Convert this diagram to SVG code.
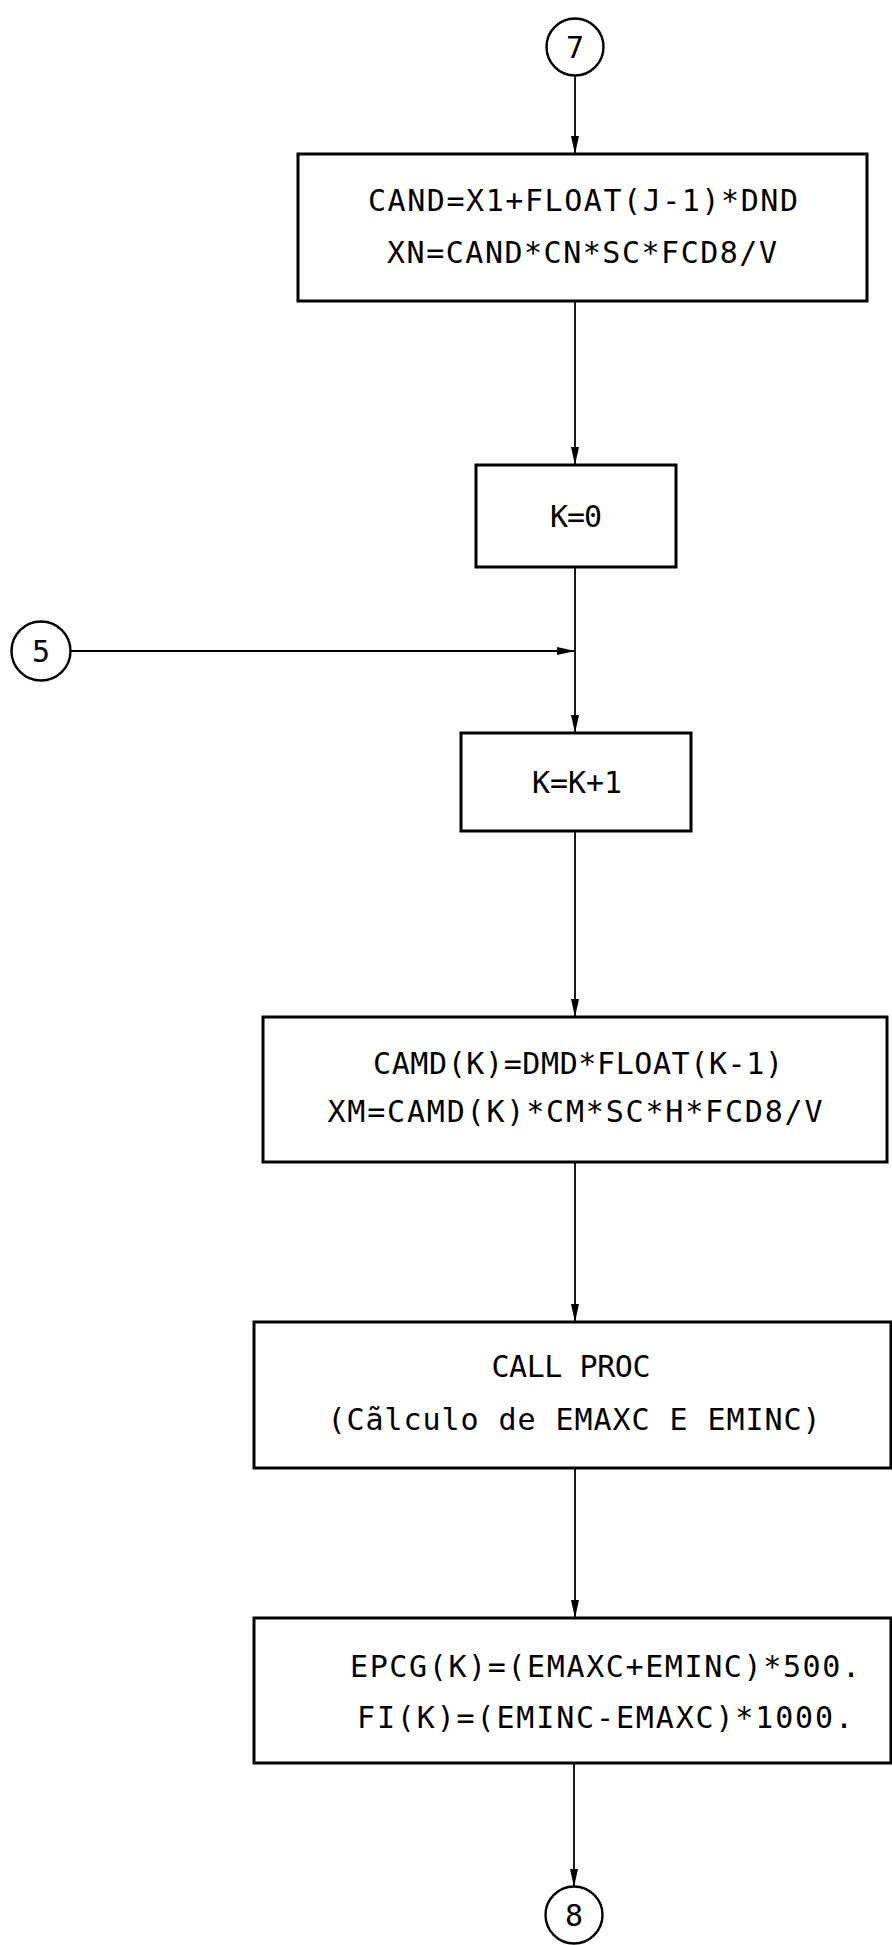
<svg xmlns="http://www.w3.org/2000/svg" width="892" height="1945" viewBox="0 0 892 1945">
<style>
.box{fill:#fff;stroke:#000;stroke-width:3}
.circ{fill:#fff;stroke:#000;stroke-width:2.4}
.ln{fill:none;stroke:#000;stroke-width:1.8}
.t{font-family:"DejaVu Sans Mono","Liberation Mono",monospace;font-size:30px;fill:#000;text-anchor:middle}
</style>
<defs>
<marker id="ah" viewBox="0 0 18 8" refX="18" refY="4" markerWidth="18" markerHeight="8" markerUnits="userSpaceOnUse" orient="auto">
<path d="M0,0 L18,4 L0,8 z" fill="#000"/>
</marker>
</defs>
<rect width="892" height="1945" fill="#fff"/>
<g id="connectors">
<line class="ln" x1="575" y1="76" x2="575" y2="154" marker-end="url(#ah)"/>
<line class="ln" x1="575" y1="301" x2="575" y2="465" marker-end="url(#ah)"/>
<line class="ln" x1="575" y1="567" x2="575" y2="733" marker-end="url(#ah)"/>
<line class="ln" x1="70" y1="651" x2="575" y2="651" marker-end="url(#ah)"/>
<line class="ln" x1="575" y1="831" x2="575" y2="1017" marker-end="url(#ah)"/>
<line class="ln" x1="575" y1="1162" x2="575" y2="1322" marker-end="url(#ah)"/>
<line class="ln" x1="575" y1="1468" x2="575" y2="1618" marker-end="url(#ah)"/>
<line class="ln" x1="574" y1="1763" x2="574" y2="1887" marker-end="url(#ah)"/>
</g>
<g id="c7">
<circle class="circ" cx="575" cy="47" r="28.5"/>
<text class="t" x="575" y="58">7</text>
</g>
<g id="b1">
<rect class="box" x="298" y="154" width="569" height="147"/>
<text class="t" x="583" y="211" textLength="430" lengthAdjust="spacing">CAND=X1+FLOAT(J-1)*DND</text>
<text class="t" x="582" y="263" textLength="390" lengthAdjust="spacing">XN=CAND*CN*SC*FCD8/V</text>
</g>
<g id="b2">
<rect class="box" x="476" y="465" width="200" height="102"/>
<text class="t" x="576" y="527" textLength="52" lengthAdjust="spacing">K=0</text>
</g>
<g id="c5">
<circle class="circ" cx="41" cy="651" r="29.5"/>
<text class="t" x="41" y="662">5</text>
</g>
<g id="b3">
<rect class="box" x="461" y="733" width="230" height="98"/>
<text class="t" x="577" y="793" textLength="90" lengthAdjust="spacing">K=K+1</text>
</g>
<g id="b4">
<rect class="box" x="263" y="1017" width="624" height="145"/>
<text class="t" x="578" y="1074" textLength="410" lengthAdjust="spacing">CAMD(K)=DMD*FLOAT(K-1)</text>
<text class="t" x="575" y="1122" textLength="495" lengthAdjust="spacing">XM=CAMD(K)*CM*SC*H*FCD8/V</text>
</g>
<g id="b5">
<rect class="box" x="254" y="1322" width="637" height="146"/>
<text class="t" x="571" y="1377" textLength="159" lengthAdjust="spacing">CALL PROC</text>
<text class="t" x="574" y="1430" textLength="493" lengthAdjust="spacing">(Cãlculo de EMAXC E EMINC)</text>
</g>
<g id="b6">
<rect class="box" x="254" y="1618" width="637" height="145"/>
<text class="t" x="605" y="1677" textLength="510" lengthAdjust="spacing">EPCG(K)=(EMAXC+EMINC)*500.</text>
<text class="t" x="605" y="1728" textLength="496" lengthAdjust="spacing">FI(K)=(EMINC-EMAXC)*1000.</text>
</g>
<g id="c8">
<circle class="circ" cx="574" cy="1915" r="28.5"/>
<text class="t" x="574" y="1926">8</text>
</g>
</svg>
